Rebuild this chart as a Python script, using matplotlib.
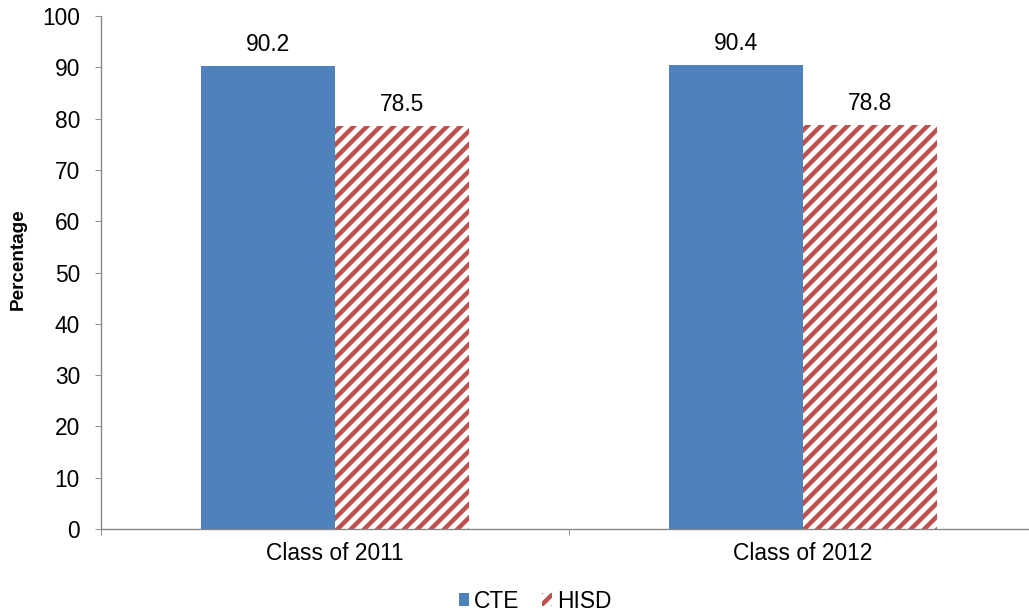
import numpy as np
import matplotlib.pyplot as plt

plt.rcParams['font.family'] = ['Liberation Sans', 'DejaVu Sans']
plt.rcParams['hatch.linewidth'] = 4.0

classes = ['Class of 2011', 'Class of 2012']
cte = [90.2, 90.4]
hisd = [78.5, 78.8]

blue = '#4F81BD'
red = '#C0504D'
grey = '#868686'
fs = 20.5

fig = plt.figure(figsize=(1029 / 80, 615 / 80), dpi=80)
ax = fig.add_axes([101 / 1029, 1 - 529 / 615, 1 - 101 / 1029, (529 - 16) / 615])

x = np.arange(len(classes))
w = 0.286
b1 = ax.bar(x - w / 2, cte, w, color=blue, label='CTE')
b2 = ax.bar(x + w / 2, hisd, w, color='white', edgecolor=red, linewidth=0,
            hatch='//', label='HISD')

for bars, vals in ((b1, cte), (b2, hisd)):
    for r, v in zip(bars, vals):
        ax.text(r.get_x() + r.get_width() / 2, v + 4.2, f'{v:.1f}',
                ha='center', va='center', fontsize=fs)

ax.set_ylim(0, 100)
ax.set_yticks(range(0, 101, 10))
# group separators as major ticks, category names on minor ticks
ax.set_xticks([-0.5, 0.5, 1.5])
ax.set_xticklabels([])
ax.set_xticks(x, minor=True)
ax.set_xticklabels(classes, minor=True)
ax.set_xlim(-0.5, 1.483)
ax.tick_params(axis='x', which='minor', length=0, labelsize=fs, pad=12)
ax.tick_params(axis='x', which='major', length=5.4, color=grey, direction='out')
ax.tick_params(axis='y', length=5.4, color=grey, labelsize=fs, pad=13.5)

for s in ('top', 'right'):
    ax.spines[s].set_visible(False)
for s in ('left', 'bottom'):
    ax.spines[s].set_color(grey)
    ax.spines[s].set_linewidth(1.2)

ax.set_ylabel('Percentage', fontsize=17, fontweight='bold')
ax.yaxis.set_label_coords(-(101 - 27) / 928, 0.526)

fig.legend(handles=[b1, b2], loc='center', bbox_to_anchor=(0.52, 1 - 601 / 615),
           ncol=2, frameon=False, fontsize=fs, handlelength=0.45,
           handleheight=0.45, handletextpad=0.2, columnspacing=1.0)

fig.savefig('out.png', dpi=80)
